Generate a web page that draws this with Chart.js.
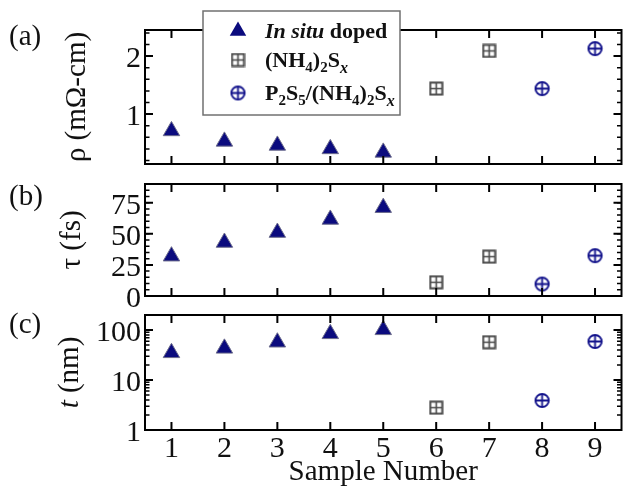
<!DOCTYPE html>
<html>
<head>
<meta charset="utf-8">
<script src="https://cdn.jsdelivr.net/npm/chart.js@4/dist/chart.umd.min.js"></script>
<style>
  body { margin: 0; background: #fff; font-family: "Liberation Serif", serif; }
  #wrap { position: relative; width: 632px; height: 487px; }
  canvas { position: absolute; left: 0; top: 0; }
</style>
</head>
<body>
<div id="wrap">
  <canvas id="pa" width="632" height="487"></canvas>
  <canvas id="pb" width="632" height="487"></canvas>
  <canvas id="pc" width="632" height="487"></canvas>
</div>
<script>
// Sample numbers per treatment
const samples = [1, 2, 3, 4, 5, 6, 7, 8, 9];
const inSituX = [1, 2, 3, 4, 5];
const nhX = [6, 7];
const psX = [8, 9];

// (a) resistivity, mOhm-cm
const rhoInSitu = [0.71, 0.53, 0.46, 0.40, 0.34];
const rhoNH = [1.44, 2.09];
const rhoPS = [1.44, 2.13];
// (b) scattering time, fs
const tauInSitu = [32, 43, 51, 61.5, 71];
const tauNH = [11, 31.6];
const tauPS = [9.6, 32.4];
// (c) thickness, nm
const tInSitu = [35, 43, 57, 84, 101];
const tNH = [2.8, 57];
const tPS = [3.9, 59];

const rhoTicks = [1, 2];
const tauTicks = [0, 25, 50, 75];
const tTicks = [1, 10, 100];

const SERIF = '"Liberation Serif", "Times New Roman", Tinos, serif';
const NAVY = "#0b0b7e";
const GREY = "#4a4a4a";

// marker images: boxed plus and circled plus
function squareMark() {
  const c = document.createElement("canvas");
  c.width = 15; c.height = 15;
  const g = c.getContext("2d");
  g.strokeStyle = GREY; g.lineWidth = 2;
  g.strokeRect(1.5, 1.5, 12, 12);
  g.lineWidth = 1.6;
  g.beginPath();
  g.moveTo(7.5, 2); g.lineTo(7.5, 13);
  g.moveTo(2, 7.5); g.lineTo(13, 7.5);
  g.stroke();
  return c;
}
function circleMark() {
  const c = document.createElement("canvas");
  c.width = 17; c.height = 17;
  const g = c.getContext("2d");
  g.strokeStyle = "#14148c"; g.lineWidth = 2;
  g.beginPath(); g.arc(8.5, 8.5, 6.6, 0, Math.PI * 2); g.stroke();
  g.lineWidth = 1.8;
  g.beginPath();
  g.moveTo(8.5, 2); g.lineTo(8.5, 15);
  g.moveTo(2, 8.5); g.lineTo(15, 8.5);
  g.stroke();
  return c;
}
const SQ = squareMark();
const CI = circleMark();

function pts(xs, ys) { return xs.map((x, i) => ({ x, y: ys[i] })); }

// draw a run of text pieces (font / baseline shift) left to right
function rich(ctx, parts, x, y, align) {
  let w = 0;
  parts.forEach(p => { ctx.font = p.f; w += ctx.measureText(p.t).width; });
  let cx = align === "center" ? x - w / 2 : x;
  ctx.textAlign = "left";
  parts.forEach(p => {
    ctx.font = p.f;
    ctx.fillText(p.t, cx, y + (p.dy || 0));
    cx += ctx.measureText(p.t).width;
  });
}

function minorTicks(scale, log, step) {
  const out = [];
  if (log) {
    for (let d = 1; d <= 1000; d *= 10)
      for (let k = 2; k <= 9; k++) {
        const v = k * d;
        if (v > scale.min && v < scale.max) out.push(v);
      }
  } else {
    const n0 = Math.ceil(scale.min / step), n1 = Math.floor(scale.max / step);
    for (let n = n0; n <= n1; n++) out.push(+(n * step).toFixed(6));
  }
  return out;
}

const frame = {
  id: "frame",
  afterDatasetsDraw(chart, args, o) {
    const { ctx, chartArea: a, scales } = chart;
    const xs = scales.x, ys = scales.y;
    ctx.save();
    ctx.strokeStyle = "#000";
    ctx.lineWidth = 2;
    ctx.strokeRect(a.left, a.top, a.right - a.left, a.bottom - a.top);
    ctx.beginPath();
    samples.forEach(s => {
      const px = xs.getPixelForValue(s);
      ctx.moveTo(px, a.bottom); ctx.lineTo(px, a.bottom - 8);
      ctx.moveTo(px, a.top); ctx.lineTo(px, a.top + 8);
    });
    o.ticks.forEach(v => {
      const py = ys.getPixelForValue(v);
      ctx.moveTo(a.left, py); ctx.lineTo(a.left + 8, py);
      ctx.moveTo(a.right, py); ctx.lineTo(a.right - 8, py);
    });
    ctx.stroke();
    ctx.lineWidth = 1.5;
    ctx.beginPath();
    minorTicks(ys, o.log, o.minor).forEach(v => {
      const py = ys.getPixelForValue(v);
      ctx.moveTo(a.left, py); ctx.lineTo(a.left + 4.5, py);
      ctx.moveTo(a.right, py); ctx.lineTo(a.right - 4.5, py);
    });
    ctx.stroke();

    ctx.fillStyle = "#111";
    ctx.font = "30px " + SERIF;
    ctx.textAlign = "right";
    ctx.textBaseline = "alphabetic";
    o.ticks.forEach(v => ctx.fillText(String(v), a.left - 4, ys.getPixelForValue(v) + 11));
    if (o.xLabels) {
      ctx.textAlign = "center";
      samples.forEach(s => ctx.fillText(String(s), xs.getPixelForValue(s), 457));
      ctx.font = "29px " + SERIF;
      ctx.fillText("Sample Number", (a.left + a.right) / 2, 480);
    }

    // panel letter
    ctx.font = "29px " + SERIF;
    ctx.textAlign = "left";
    ctx.fillText(o.letter, 9, o.letterY);

    // rotated axis title
    ctx.save();
    ctx.translate(o.titleX, (a.top + a.bottom) / 2 + (o.titleDy || 0));
    ctx.rotate(-Math.PI / 2);
    rich(ctx, o.title, 0, 0, "center");
    ctx.restore();
    ctx.restore();
  },
  afterDraw(chart, args, o) {
    if (!o.legend) return;
    const ctx = chart.ctx;
    ctx.save();
    ctx.fillStyle = "#fff";
    ctx.fillRect(203, 11, 197, 104);
    ctx.strokeStyle = "#707070";
    ctx.lineWidth = 1.5;
    ctx.strokeRect(203, 11, 197, 104);
    // legend markers
    const ds = chart.data.datasets;
    const r = ds[0].pointRadius;
    ctx.fillStyle = NAVY;
    ctx.beginPath();
    ctx.moveTo(238, 31 - r);
    ctx.lineTo(238 + r * 0.866, 31 + r / 2);
    ctx.lineTo(238 - r * 0.866, 31 + r / 2);
    ctx.closePath();
    ctx.fill();
    ctx.drawImage(ds[1].pointStyle, 238 - 7.5, 60 - 7.5);
    ctx.drawImage(ds[2].pointStyle, 238 - 8.5, 93 - 8.5);
    ctx.fillStyle = "#111";
    ctx.textBaseline = "alphabetic";
    const B = "bold 22px " + SERIF, S = "bold 15px " + SERIF, SI = "italic bold 16px " + SERIF;
    rich(ctx, [{ t: "In situ", f: "italic bold 22px " + SERIF }, { t: " doped", f: B }], 265, 38);
    rich(ctx, [{ t: "(NH", f: B }, { t: "4", f: S, dy: 5 }, { t: ")", f: B }, { t: "2", f: S, dy: 5 },
               { t: "S", f: B }, { t: "x", f: SI, dy: 6 }], 265, 67);
    rich(ctx, [{ t: "P", f: B }, { t: "2", f: S, dy: 5 }, { t: "S", f: B }, { t: "5", f: S, dy: 5 },
               { t: "/(NH", f: B }, { t: "4", f: S, dy: 5 }, { t: ")", f: B }, { t: "2", f: S, dy: 5 },
               { t: "S", f: B }, { t: "x", f: SI, dy: 6 }], 265, 100);
    ctx.restore();
  }
};

function panel(id, p) {
  return new Chart(document.getElementById(id), {
    type: "scatter",
    data: {
      datasets: [
        { label: "In situ doped", data: pts(inSituX, p.ys[0]), pointStyle: "triangle",
          pointRadius: 9.5, backgroundColor: NAVY, borderColor: "#6c6c8c", borderWidth: 1 },
        { label: "(NH4)2Sx", data: pts(nhX, p.ys[1]), pointStyle: SQ, pointRadius: 7 },
        { label: "P2S5/(NH4)2Sx", data: pts(psX, p.ys[2]), pointStyle: CI, pointRadius: 8 },
      ].map(d => ({ clip: false, ...d })),
    },
    options: {
      responsive: false, animation: false, devicePixelRatio: 1, events: [],
      layout: { padding: { left: 145, right: 2, top: p.top, bottom: 487 - p.bottom } },
      scales: {
        x: { type: "linear", min: 0.5, max: 9.5, display: false },
        y: { type: p.log ? "logarithmic" : "linear", min: p.min, max: p.max, display: false },
      },
      plugins: {
        legend: { display: false }, tooltip: { enabled: false },
        frame: p.frame,
      },
    },
    plugins: [frame],
  });
}

function build() {
  const R = "29px " + SERIF;
  panel("pa", {
    ys: [rhoInSitu, rhoNH, rhoPS], top: 30, bottom: 164, min: 0.14, max: 2.45,
    frame: { ticks: rhoTicks, minor: 0.2, letter: "(a)", letterY: 45, legend: true,
             titleX: 85, title: [{ t: "ρ (mΩ-cm)", f: R }] },
  });
  panel("pb", {
    ys: [tauInSitu, tauNH, tauPS], top: 184, bottom: 296, min: 0, max: 90,
    frame: { ticks: tauTicks, minor: 5, letter: "(b)", letterY: 205,
             titleX: 80, title: [{ t: "τ (fs)", f: R }] },
  });
  panel("pc", {
    ys: [tInSitu, tNH, tPS], top: 315, bottom: 430, min: 1, max: 200, log: true,
    frame: { ticks: tTicks, log: true, letter: "(c)", letterY: 333, xLabels: true,
             titleX: 78, title: [{ t: "t", f: "italic " + R }, { t: " (nm)", f: R }] },
  });
}

// make sure the serif faces are ready before drawing on canvas
Promise.all([
  '30px "Liberation Serif"', 'italic 30px "Liberation Serif"',
  'bold 22px "Liberation Serif"', 'italic bold 22px "Liberation Serif"',
].map(f => document.fonts.load(f, "0123 Samplemnfs"))).catch(() => {}).then(build);
</script>
</body>
</html>
